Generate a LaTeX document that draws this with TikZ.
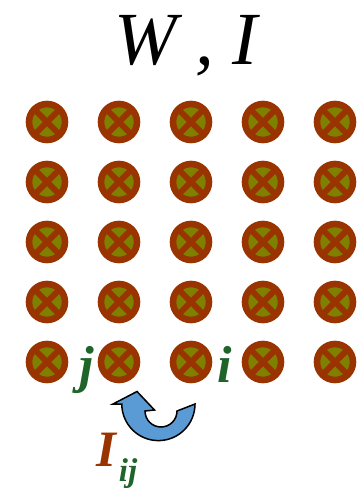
\documentclass[tikz,border=0pt]{standalone}
\usepackage{fontspec}
\setmainfont{Liberation Serif}
\usetikzlibrary{positioning}
\definecolor{spinring}{RGB}{153,51,0}
\definecolor{spinfill}{RGB}{128,128,0}
\definecolor{idxgreen}{RGB}{31,100,40}
\definecolor{arrowblue}{RGB}{91,155,213}
\begin{document}
\begin{tikzpicture}[x=1pt,y=-1pt,
    spin/.style={circle,draw=spinring,fill=spinfill,line width=6.6pt,
      minimum size=36pt,inner sep=0pt,
      path picture={\draw[spinring,line width=6pt]
        (path picture bounding box.north west) -- (path picture bounding box.south east)
        (path picture bounding box.north east) -- (path picture bounding box.south west);}},
    idx/.style={text=idxgreen,font=\fontsize{52}{56}\selectfont\bfseries\itshape}]
    \useasboundingbox (0,0) rectangle (359,492);
    % Title
    \node[anchor=base,font=\fontsize{75}{80}\selectfont\itshape] (title) at (186,65) {W , I};
    % Spins
    \foreach \r in {1,...,5}
      \foreach \c in {1,...,5}
        \node[spin] (s\r\c) at ({47+72*(\c-1)},{122+60*(\r-1)}) {};
    % Site labels
    \node[idx,anchor=base] (jlab) at (87,382) {j};
    \node[idx,anchor=base] (ilab) at (225,382) {i};
    % Exchange arrow
    \draw[fill=arrowblue,line width=1.5pt,line join=miter]
      (113,404) -- (137,391.5) -- (154.5,410) -- (145,411)
      arc[start angle=180,end angle=0,radius=16] -- (195,404)
      arc[start angle=0,end angle=180,radius=36.6] -- cycle;
    \node[anchor=base,text=spinring,font=\fontsize{51}{55}\selectfont\bfseries\itshape] (Ilab) at (106,466) {I};
    \node[idx,anchor=base,font=\fontsize{33}{36}\selectfont\bfseries\itshape] (ijlab) at (128,481) {ij};
\end{tikzpicture}
\end{document}
